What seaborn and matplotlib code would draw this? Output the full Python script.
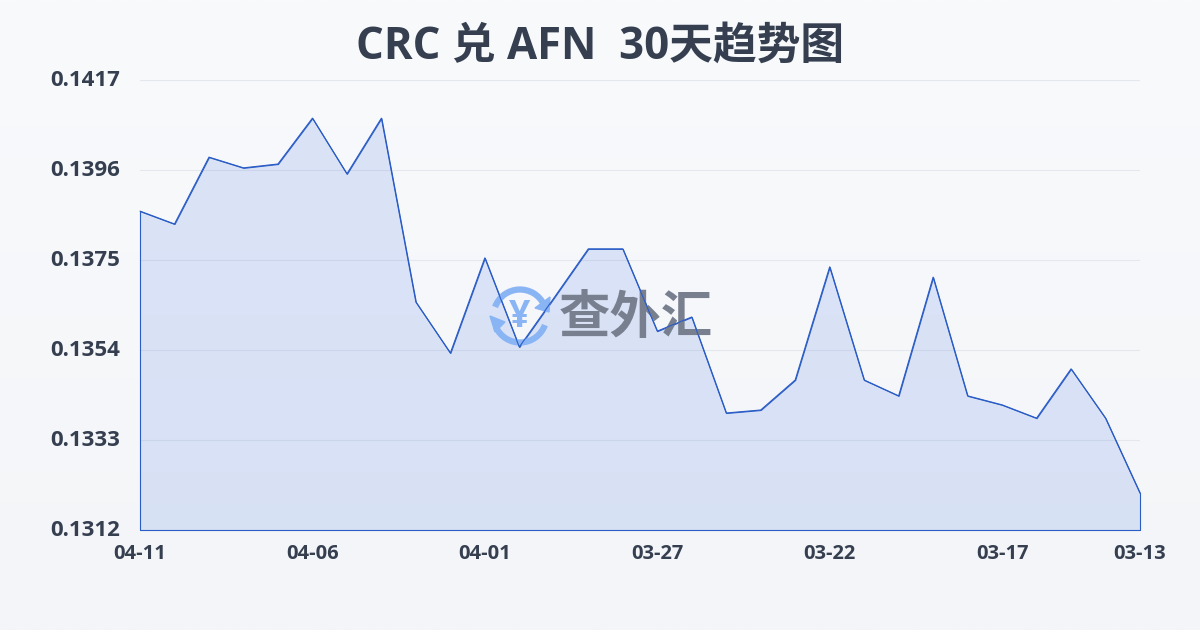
import numpy as np
import seaborn as sns
import matplotlib
matplotlib.use("Agg")
import matplotlib.pyplot as plt
from matplotlib.colors import to_rgba, LinearSegmentedColormap
from matplotlib.patches import PathPatch, Polygon
from matplotlib.path import Path
from matplotlib.transforms import Affine2D, ScaledTranslation

dates = ["04-11", "04-10", "04-09", "04-08", "04-07", "04-06", "04-05", "04-04", "04-03", "04-02",
         "04-01", "03-31", "03-30", "03-29", "03-28", "03-27", "03-26", "03-25", "03-24", "03-23",
         "03-22", "03-21", "03-20", "03-19", "03-18", "03-17", "03-16", "03-15", "03-14", "03-13"]
rates = [0.13864, 0.13834, 0.13990, 0.13965, 0.13974, 0.14081, 0.13951, 0.14081, 0.13652, 0.13533,
         0.13755, 0.13547, 0.13661, 0.13776, 0.13776, 0.13584, 0.13617, 0.13393, 0.13400, 0.13470,
         0.13734, 0.13470, 0.13433, 0.13710, 0.13433, 0.13412, 0.13381, 0.13496, 0.13381, 0.13206]
y_ticks = [0.1312, 0.1333, 0.1354, 0.1375, 0.1396, 0.1417]
x_tick_pos = [0, 5, 10, 15, 20, 25, 29]

title = "CRC 兑 AFN  30天趋势图"
watermark = "查外汇"

LINE = "#2a5cc6"
TEXT = "#353f50"
FONTS = ["Open Sans", "Noto Sans CJK SC", "DejaVu Sans"]

sns.set_theme(style="white")
plt.rcParams["font.family"] = FONTS
plt.rcParams["font.weight"] = "bold"

fig = plt.figure(figsize=(12, 6.3), dpi=100)

# page background, light vertical gradient
bg = fig.add_axes([0, 0, 1, 1], zorder=-1)
bg_cmap = LinearSegmentedColormap.from_list("page", ["#f8fafc", "#f3f5f8"])
bg.imshow(np.linspace(0, 1, 256).reshape(-1, 1), cmap=bg_cmap, aspect="auto")
bg.axis("off")

ax = fig.add_axes([140 / 1200, 1 - 530 / 630, 1000 / 1200, 450 / 630])
ax.patch.set_alpha(0)

ax.fill_between(range(len(rates)), rates, y_ticks[0], facecolor=to_rgba("#3b6fe0", 0.15),
                edgecolor=LINE, linewidth=0.8, zorder=2, clip_on=False)
sns.lineplot(x=list(range(len(rates))), y=rates, color=LINE, linewidth=0.8, ax=ax, zorder=5,
             errorbar=None, clip_on=False)

ax.set_xlim(0, len(rates) - 1)
ax.set_ylim(y_ticks[0], y_ticks[-1])
ax.set_xticks(x_tick_pos)
ax.set_xticklabels([dates[i] for i in x_tick_pos], fontsize=14.5, color=TEXT, fontweight="bold")
ax.set_yticks(y_ticks)
ax.set_yticklabels([f"{t:.4f}" for t in y_ticks], fontsize=16, color=TEXT, fontweight="bold")
ax.tick_params(axis="x", length=0, pad=10)
ax.tick_params(axis="y", length=0, pad=14)
# labels sit 2px above their gridlines in the original
up = ScaledTranslation(0, 2 / 100, fig.dpi_scale_trans)
for lab in ax.get_yticklabels():
    lab.set_transform(lab.get_transform() + up)
ax.grid(axis="y", color="#e4e8ee", linewidth=0.8, zorder=1)
ax.grid(axis="x", visible=False)
ax.set_axisbelow(True)
sns.despine(ax=ax, left=True, bottom=True)

# watermark, placed in pixels from the top left corner
px = Affine2D().scale(1, -1).translate(0, 630)
LOGO = "#8ab5f5"
for t1, t2 in [(-160, -25), (20, 155)]:
    arc = Path.arc(t1, t2)
    ax.add_patch(PathPatch(arc, fill=False, edgecolor=LOGO, linewidth=4.5,
                           transform=Affine2D().scale(26.5).translate(520, 316) + px,
                           zorder=3, clip_on=False))
ax.add_patch(Polygon([(550, 297), (549, 312), (535, 308)], color=LOGO, transform=px, zorder=3, clip_on=False))
ax.add_patch(Polygon([(490, 316), (505, 322), (495, 332)], color=LOGO, transform=px, zorder=3, clip_on=False))
ax.text(520, 317, "¥", transform=px, color=LOGO, fontsize=27, fontweight="bold",
        ha="center", va="center", zorder=3)
ax.text(636, 320, watermark, transform=px, color="#787f8f", fontsize=37, fontweight="bold",
        ha="center", va="center", zorder=3)

fig.text(0.5, 1 - 47 / 630, title, ha="center", va="center", fontsize=31.5, color=TEXT, fontweight="bold")

fig.savefig("out.png", dpi=100)
